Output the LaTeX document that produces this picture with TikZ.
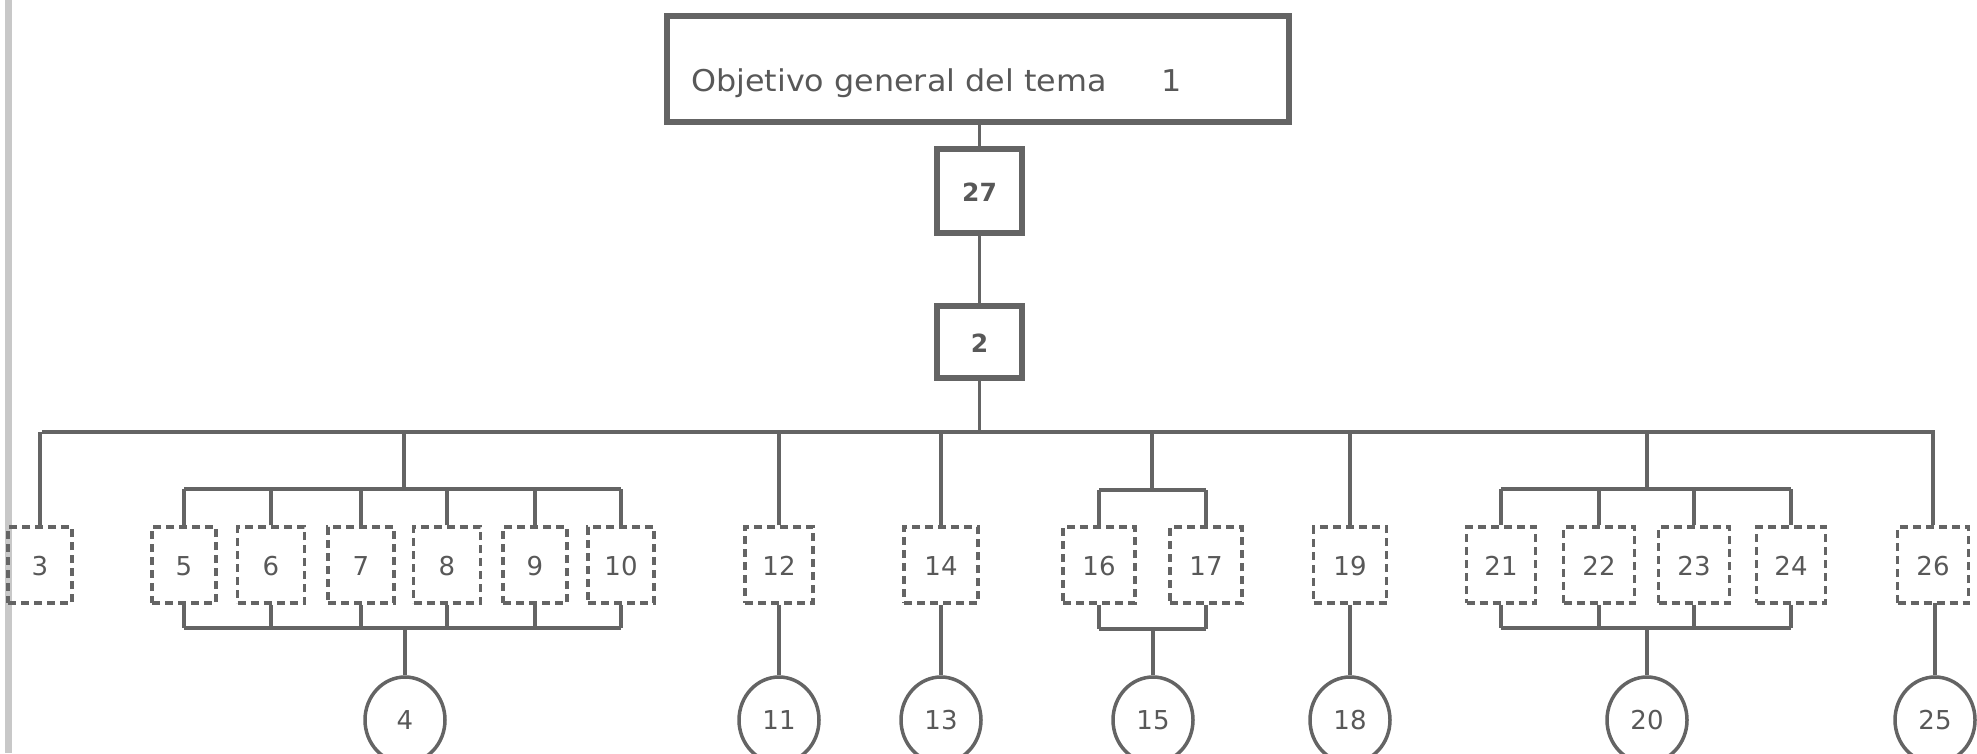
\documentclass[tikz,border=0pt]{standalone}
\usepackage{fontspec}
\setmainfont{DejaVu Sans}
\newfontfamily\titlefont{DejaVu Sans}[FakeStretch=1.06]
\usetikzlibrary{shapes.geometric}
\definecolor{ink}{RGB}{100,100,100}
\definecolor{txt}{RGB}{88,88,88}
\definecolor{edge}{RGB}{200,200,200}
\begin{document}
\begin{tikzpicture}[x=1pt,y=-1pt,
  wire/.style={draw=ink, line width=3.5pt},
  topbox/.style={draw=ink, line width=5.5pt, rectangle, inner sep=0pt},
  solidbox/.style={draw=ink, line width=5.5pt, rectangle, inner sep=0pt,
    minimum width=85pt, text=txt, font=\fontsize{25}{25}\selectfont\bfseries},
  dbox/.style={draw=ink, line width=3.5pt, dash pattern=on 8pt off 5pt,
    rectangle, minimum height=76pt, inner sep=0pt, text=txt,
    font=\fontsize{26}{26}\selectfont},
  endc/.style={ellipse, draw=ink, line width=3.5pt, minimum width=80pt,
    minimum height=86pt, inner sep=0pt, text=txt,
    font=\fontsize{26}{26}\selectfont},
  low/.style={text depth=2pt, text height=23pt}]
\useasboundingbox[fill=white] (0,0) rectangle (1977,753);
% page edge on the left
\fill[edge] (5,0) rectangle (12,753);

% head of the tree
\node[topbox, minimum width=622pt, minimum height=106pt] (obj) at (978,69) {};
\node[anchor=base west, inner sep=0pt, text=txt,
  font=\titlefont\fontsize{30}{30}\selectfont] (objtxt) at (691,91)
  {\makebox[470pt][l]{Objetivo general del tema}1};
\node[solidbox, minimum height=84pt, low] (b27) at (979.5,191) {27};
\node[solidbox, minimum height=72pt, low] (b2) at (979.5,342) {2};
\draw[wire] (obj.south -| b27.north) -- (b27.north);
\draw[wire] (b27) -- (b2);

% main bus
\coordinate (busL) at (42,432);
\coordinate (busR) at (1935,432);
\draw[wire] (busL) -- (busR);
\draw[wire] (b2.south) -- (b2.south |- busL);

% second-level boxes
\begin{scope}[every node/.append style={low}]
\node[dbox, minimum width=64pt] (b3)  at (40,565) {3};
\node[dbox, minimum width=64pt] (b5)  at (184,565) {5};
\node[dbox, minimum width=67pt] (b6)  at (271,565) {6};
\node[dbox, minimum width=66pt] (b7)  at (361,565) {7};
\node[dbox, minimum width=67pt] (b8)  at (447,565) {8};
\node[dbox, minimum width=64pt] (b9)  at (535,565) {9};
\node[dbox, minimum width=66pt] (b10) at (621,565) {10};
\node[dbox, minimum width=68pt] (b12) at (779,565) {12};
\node[dbox, minimum width=74pt] (b14) at (941,565) {14};
\node[dbox, minimum width=72pt] (b16) at (1099,565) {16};
\node[dbox, minimum width=72pt] (b17) at (1206,565) {17};
\node[dbox, minimum width=73pt] (b19) at (1350,565) {19};
\node[dbox, minimum width=69pt] (b21) at (1501,565) {21};
\node[dbox, minimum width=71pt] (b22) at (1599,565) {22};
\node[dbox, minimum width=71pt] (b23) at (1694,565) {23};
\node[dbox, minimum width=69pt] (b24) at (1791,565) {24};
\node[dbox, minimum width=71pt] (b26) at (1933,565) {26};
\end{scope}

% end circles
\node[endc] (c4)  at (405,720) {4};
\node[endc] (c11) at (779,720) {11};
\node[endc] (c13) at (941,720) {13};
\node[endc] (c15) at (1153,720) {15};
\node[endc] (c18) at (1350,720) {18};
\node[endc] (c20) at (1647,720) {20};
\node[endc] (c25) at (1935,720) {25};

% single branches
\foreach \b/\c in {b12/c11, b14/c13, b19/c18, b26/c25} {
  \draw[wire] (\b.north) -- (\b.north |- busL);
  \draw[wire] (\b.south) -- (\b.south -| \c.north) -- (\c.north);
}
\draw[wire] (b3.north) -- (b3.north |- busL);

% group 5 - 10
\coordinate (gAt) at (404,489);
\coordinate (gAb) at (404,628);
\draw[wire] (gAt) -- (gAt |- busL);
\draw[wire] (b5.north |- gAt) -- (b10.north |- gAt);
\draw[wire] (b5.south |- gAb) -- (b10.south |- gAb);
\foreach \b in {b5,b6,b7,b8,b9,b10} {
  \draw[wire] (\b.north) -- (\b.north |- gAt);
  \draw[wire] (\b.south) -- (\b.south |- gAb);
}
\draw[wire] (gAb) -- (gAb -| c4.north) -- (c4.north);

% group 16 - 17
\coordinate (gBt) at (1152,490);
\coordinate (gBb) at (1152,629);
\draw[wire] (gBt) -- (gBt |- busL);
\draw[wire] (b16.north |- gBt) -- (b17.north |- gBt);
\draw[wire] (b16.south |- gBb) -- (b17.south |- gBb);
\foreach \b in {b16,b17} {
  \draw[wire] (\b.north) -- (\b.north |- gBt);
  \draw[wire] (\b.south) -- (\b.south |- gBb);
}
\draw[wire] (gBb) -- (gBb -| c15.north) -- (c15.north);

% group 21 - 24
\coordinate (gCt) at (1647,489);
\coordinate (gCb) at (1647,628);
\draw[wire] (gCt) -- (gCt |- busL);
\draw[wire] (b21.north |- gCt) -- (b24.north |- gCt);
\draw[wire] (b21.south |- gCb) -- (b24.south |- gCb);
\foreach \b in {b21,b22,b23,b24} {
  \draw[wire] (\b.north) -- (\b.north |- gCt);
  \draw[wire] (\b.south) -- (\b.south |- gCb);
}
\draw[wire] (gCb) -- (gCb -| c20.north) -- (c20.north);
\end{tikzpicture}
\end{document}
